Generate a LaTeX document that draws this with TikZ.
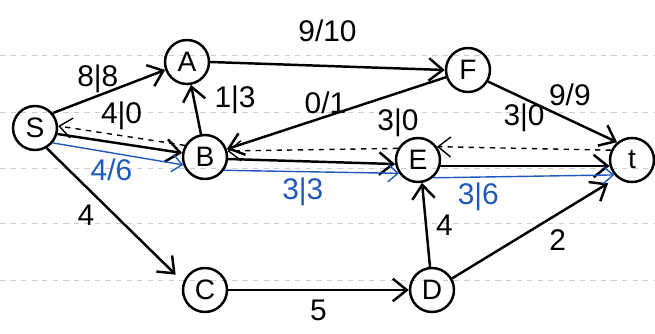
\documentclass[tikz,border=0pt]{standalone}
\usepackage{fontspec}
\setmainfont{Liberation Sans}
\usetikzlibrary{arrows.meta}
\definecolor{penblue}{RGB}{30, 90, 190}
\definecolor{ruleline}{RGB}{200, 205, 215}

\begin{document}
\begin{tikzpicture}[
    x=0.02cm, y=-0.02cm,
    vertex/.style={circle, draw, line width=1.4pt, minimum size=0.88cm, inner sep=0pt, font=\fontsize{16}{18}\selectfont},
    flow/.style={-{Straight Barb[length=2.8mm, width=4.5mm]}, line width=1.4pt},
    aug/.style={-{Straight Barb[length=2mm, width=3.5mm]}, thick, penblue},
    back/.style={-{Straight Barb[length=2.5mm, width=4mm]}, thick, dashed},
    wt/.style={font=\fontsize{17}{19}\selectfont, inner sep=1pt},
]
\useasboundingbox (0,0) rectangle (655,334);

% Notebook rules
\foreach \y in {55,112,168,223,280}
  \draw[ruleline, dashed, thin] (0,\y) -- (655,\y);

% Vertices
\node[vertex] (S) at (35,128) {S};
\node[vertex] (A) at (187,62) {A};
\node[vertex] (B) at (205,157) {B};
\node[vertex] (F) at (468,70) {F};
\node[vertex] (E) at (418,160) {E};
\node[vertex] (T) at (632,160) {t};
\node[vertex] (C) at (205,290) {C};
\node[vertex] (D) at (432,290) {D};

% Forward edges
\draw[flow] (S.40) -- node[wt, above, pos=0.4] {8|8} (A.200);
\draw[flow] (A.east) -- node[wt, above=12pt] {9/10} (F.west);
\draw[flow] (F.-30) -- node[wt, above right, pos=0.45] {9/9} (T.130);
\draw[flow] (B.100) -- node[wt, right=10pt, pos=0.7] {1|3} (A.-80);
\draw[flow] (F) -- node[wt, above, pos=0.55] {0/1} (B.20);
\draw[flow] (S.-15) -- (B.170);
\draw[flow] (B.-5) -- (E.190);
\draw[flow] (E.-15) -- (T.195);
\draw[flow, shorten >=6pt] (S.-60) -- node[wt, left=10pt] {4} (C.160);
\draw[flow] (C.east) -- node[wt, below=4pt] {5} (D.west);
\draw[flow] (D.95) -- node[wt, right=4pt] {4} (E.-80);
\draw[flow, shorten >=6pt] (D.30) -- node[wt, below right=2pt, pos=0.55] {2} (T.-130);

% Augmenting path
\draw[aug] (S.-40) -- node[wt, below=2pt, pos=0.45] {4/6} (B.200);
\draw[aug] (B.-35) -- node[wt, below=2pt, pos=0.45] {3|3} (E.-145);
\draw[aug] (E.-50) -- node[wt, below=2pt, pos=0.25] {3|6} (T.-140);

% Residual back edges
\draw[back] (B.150) -- node[wt, above=2pt] {4|0} (S.5);
\draw[back] (E.150) -- node[wt, above=5pt, pos=0] {3|0} (B.15);
\draw[back] (T.155) -- node[wt, above=8pt] {3|0} (E.35);

\end{tikzpicture}
\end{document}
